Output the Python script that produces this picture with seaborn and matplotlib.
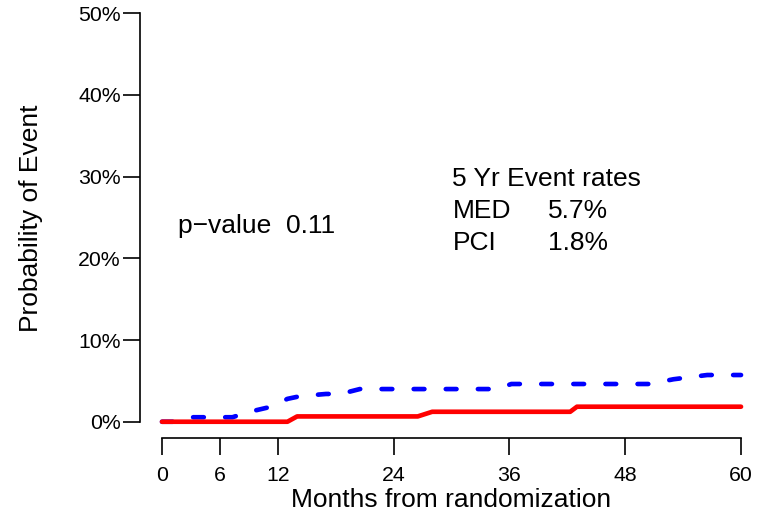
import matplotlib
matplotlib.use("Agg")
import matplotlib.pyplot as plt
import pandas as pd
import seaborn as sns


# cumulative probability of event (%)
months_med = [0, 2, 3, 7.3, 9, 11, 12, 13, 14, 15, 17, 18.5, 20.5, 34.7, 36.2, 50.5, 53, 56.5, 60]
prob_med = [0, 0, 0.55, 0.55, 1.2, 1.75, 2.25, 2.8, 3.05, 3.2, 3.4, 3.4, 4.0, 4.0, 4.62, 4.62, 5.2, 5.72, 5.72]

months_pci = [0, 13, 14, 26.5, 28, 42.3, 43, 60]
prob_pci = [0, 0, 0.65, 0.65, 1.22, 1.22, 1.84, 1.84]

x_ticks = [0, 6, 12, 24, 36, 48, 60]
y_ticks = [0, 10, 20, 30, 40, 50]

rate_labels = ["MED", "PCI"]
rate_values = ["5.7%", "1.8%"]
p_value = "0.11"


def main():
    sns.set_style("ticks")
    plt.rcParams["font.family"] = ["Liberation Sans", "DejaVu Sans"]
    plt.rcParams["text.color"] = "black"
    plt.rcParams["axes.labelcolor"] = "black"

    med = pd.DataFrame({"month": months_med, "prob": prob_med})
    pci = pd.DataFrame({"month": months_pci, "prob": prob_pci})

    fig = plt.figure(figsize=(7.58, 5.19), dpi=100)
    ax = fig.add_axes([140 / 758, 1 - 437.5 / 519, 618 / 758, 437.5 / 519])

    sns.lineplot(data=med, x="month", y="prob", ax=ax, color="#0000FF",
                 lw=3.35, linestyle=(0, (2.3, 4.6)), dash_capstyle="round",
                 estimator=None, sort=False, clip_on=False)
    sns.lineplot(data=pci, x="month", y="prob", ax=ax, color="#FF0000",
                 lw=3.35, solid_capstyle="round", estimator=None, sort=False,
                 clip_on=False)

    ax.set_xlim(-2.28, 61.76)
    ax.set_ylim(-1.93, 51.63)

    for side in ["top", "right"]:
        ax.spines[side].set_visible(False)
    ax.spines["left"].set_bounds(0, 50)
    ax.spines["bottom"].set_bounds(0, 60)
    for side in ["left", "bottom"]:
        ax.spines[side].set_linewidth(1.2)
        ax.spines[side].set_color("black")

    ax.set_xticks(x_ticks)
    ax.set_yticks(y_ticks)
    ax.set_yticklabels([f"{v}%" for v in y_ticks])
    ax.tick_params(axis="both", direction="out", length=11.9, width=1.2,
                   color="black", labelsize=15.3, labelcolor="black",
                   bottom=True, left=True)
    ax.tick_params(axis="x", pad=8.5)
    ax.tick_params(axis="y", pad=2)

    ax.set_xlabel("Months from randomization", fontsize=19)
    ax.set_ylabel("Probability of Event", fontsize=19)
    ax.xaxis.set_label_coords(0.504, -0.115)
    ax.yaxis.set_label_coords(-0.157, 0.5)

    ax.text(1.7, 23.07, "p\u2212value  " + p_value, fontsize=19, va="baseline")
    ax.text(30.1, 28.9, "5 Yr Event rates", fontsize=19, va="baseline")
    for i, (lab, val) in enumerate(zip(rate_labels, rate_values)):
        y = 24.9 - i * 3.9
        ax.text(30.1, y, lab, fontsize=19, va="baseline")
        ax.text(40.0, y, val, fontsize=19, va="baseline")

    fig.savefig("out.png", dpi=100)
    plt.close(fig)


if __name__ == "__main__":
    main()
